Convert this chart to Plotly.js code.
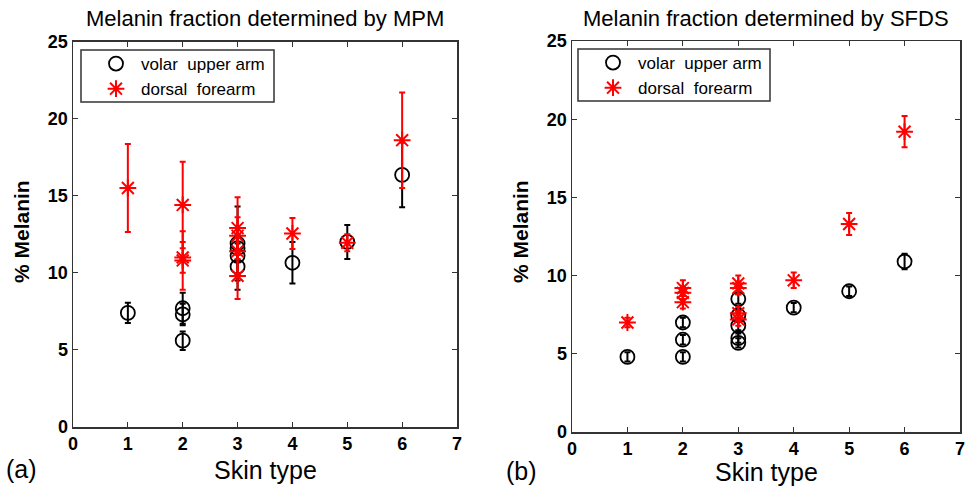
<!DOCTYPE html>
<html>
<head>
<meta charset="utf-8">
<script src="https://cdn.plot.ly/plotly-3.0.1.min.js"></script>
<style>html,body{margin:0;padding:0;background:#fff;}#chart{width:966px;height:489px;}</style>
</head>
<body>
<div id="chart"></div>
<script>
// Panel (a): MPM
const mpmVolarX   = [1, 2, 2, 2, 3, 3, 3, 3, 4, 5, 6];
const mpmVolarY   = [7.4, 7.7, 7.3, 5.6, 11.9, 11.6, 11.1, 10.4, 10.65, 12.0, 16.35];
const mpmVolarErr = [0.65, 1.0, 0.7, 0.6, 2.4, 0.9, 1.2, 1.5, 1.35, 1.1, 2.1];
const mpmDorsalX   = [1, 2, 2, 2, 3, 3, 3, 3, 4, 5, 6];
const mpmDorsalY   = [15.5, 14.4, 11.0, 10.8, 12.9, 12.4, 11.4, 9.8, 12.55, 11.95, 18.6];
const mpmDorsalErr = [2.85, 2.8, 1.0, 1.9, 2.0, 1.2, 1.5, 1.5, 1.0, 0.55, 3.1];
// Panel (b): SFDS
const sfdsVolarX   = [1, 2, 2, 2, 3, 3, 3, 3, 3, 4, 5, 6];
const sfdsVolarY   = [4.8, 7.0, 5.9, 4.8, 8.5, 7.45, 6.8, 6.0, 5.7, 7.95, 9.0, 10.9];
const sfdsVolarErr = [0.3, 0.3, 0.3, 0.3, 0.3, 0.3, 0.3, 0.3, 0.3, 0.3, 0.3, 0.5];
const sfdsDorsalX   = [1, 2, 2, 2, 3, 3, 3, 3, 4, 5, 6];
const sfdsDorsalY   = [7.0, 9.2, 8.9, 8.3, 9.5, 9.2, 7.6, 7.2, 9.7, 13.3, 19.2];
const sfdsDorsalErr = [0.3, 0.5, 0.4, 0.4, 0.5, 0.4, 0.4, 0.4, 0.5, 0.7, 1.0];

const xTicks = [0, 1, 2, 3, 4, 5, 6, 7];
const yTicks = [0, 5, 10, 15, 20, 25];
const names = ['volar  upper arm', 'dorsal  forearm'];
const titles = ['Melanin fraction determined by MPM', 'Melanin fraction determined by SFDS'];

const circ = {symbol: 'circle-open', size: 14, color: '#000', line: {color: '#000', width: 1.8}};
const star = {symbol: 'asterisk-open', size: 14, color: '#ff0000', line: {color: '#ff0000', width: 2}};

function tr(x, y, err, name, marker, xa, ya, leg, ecolor) {
  return {x: x, y: y, type: 'scatter', mode: 'markers', name: name,
    xaxis: xa, yaxis: ya, legend: leg, marker: marker,
    error_y: {type: 'data', array: err, visible: true, color: ecolor, thickness: 2, width: 3}};
}

const data = [
  tr(mpmVolarX, mpmVolarY, mpmVolarErr, names[0], circ, 'x', 'y', 'legend', '#000'),
  tr(mpmDorsalX, mpmDorsalY, mpmDorsalErr, names[1], star, 'x', 'y', 'legend', '#ff0000'),
  tr(sfdsVolarX, sfdsVolarY, sfdsVolarErr, names[0], circ, 'x2', 'y2', 'legend2', '#000'),
  tr(sfdsDorsalX, sfdsDorsalY, sfdsDorsalErr, names[1], star, 'x2', 'y2', 'legend2', '#ff0000')
];

const tickFont = {family: '"Liberation Sans Narrow", "Arial Narrow", Arial, sans-serif', size: 18, color: '#000', weight: 'bold'};
function xax(dom, anchor) {
  return {domain: dom, anchor: anchor, range: [0, 7], tickvals: xTicks, ticktext: xTicks.map(String),
    showline: true, mirror: 'ticks', linecolor: '#333', linewidth: 1.5, ticks: 'inside', ticklen: 5,
    tickcolor: '#333', showgrid: false, zeroline: false, tickfont: tickFont, fixedrange: true};
}
function yax(dom, anchor) {
  return {domain: dom, anchor: anchor, range: [0, 25], tickvals: yTicks, ticktext: yTicks.map(String),
    showline: true, mirror: 'ticks', linecolor: '#333', linewidth: 1.5, ticks: 'inside', ticklen: 5,
    tickcolor: '#333', showgrid: false, zeroline: false, tickfont: tickFont, fixedrange: true};
}

const txt = {family: 'Arial, "Liberation Sans", sans-serif', color: '#000'};
function ann(text, x, y, size, extra) {
  return Object.assign({text: text, xref: 'paper', yref: 'paper', x: x / 966, y: 1 - y / 489,
    showarrow: false, xanchor: 'center', yanchor: 'middle', font: Object.assign({}, txt, {size: size})}, extra || {});
}
function box(x0, y0, x1, y1) {
  return {type: 'rect', xref: 'paper', yref: 'paper', x0: x0 / 966, x1: x1 / 966, y0: 1 - y0 / 489, y1: 1 - y1 / 489,
    line: {color: '#333', width: 1.5}, fillcolor: 'rgba(0,0,0,0)', layer: 'above'};
}

const legFont = Object.assign({}, txt, {size: 17});
const layout = {
  width: 966, height: 489,
  margin: {l: 0, r: 0, t: 0, b: 0},
  paper_bgcolor: '#fff', plot_bgcolor: '#fff',
  xaxis: xax([73 / 966, 457 / 966], 'y'),
  yaxis: yax([1 - 427 / 489, 1 - 41.5 / 489], 'x'),
  xaxis2: xax([572 / 966, 960 / 966], 'y2'),
  yaxis2: yax([1 - 432 / 489, 1 - 41 / 489], 'x2'),
  legend: {x: 91 / 966, y: 1 - 46 / 489, xanchor: 'left', yanchor: 'top', borderwidth: 0,
    bgcolor: 'rgba(0,0,0,0)', font: legFont, tracegroupgap: 0, itemwidth: 40},
  legend2: {x: 588 / 966, y: 1 - 45 / 489, xanchor: 'left', yanchor: 'top', borderwidth: 0,
    bgcolor: 'rgba(0,0,0,0)', font: legFont, tracegroupgap: 0, itemwidth: 40},
  shapes: [box(81, 50, 274, 102), box(578, 49, 770, 101)],
  annotations: [
    ann(titles[0], 265, 19, 22),
    ann(titles[1], 766, 19, 22),
    ann('Skin type', 265, 470, 25),
    ann('Skin type', 766, 472, 25),
    ann('(a)', 21, 469, 25),
    ann('(b)', 521, 471, 25),
    ann('% Melanin', 21, 232, 21, {textangle: -90, font: Object.assign({}, txt, {size: 21, weight: 'bold'})}),
    ann('% Melanin', 520, 232, 21, {textangle: -90, font: Object.assign({}, txt, {size: 21, weight: 'bold'})})
  ],
  showlegend: true
};

Plotly.newPlot('chart', data, layout, {displayModeBar: false, staticPlot: true});
</script>
</body>
</html>
